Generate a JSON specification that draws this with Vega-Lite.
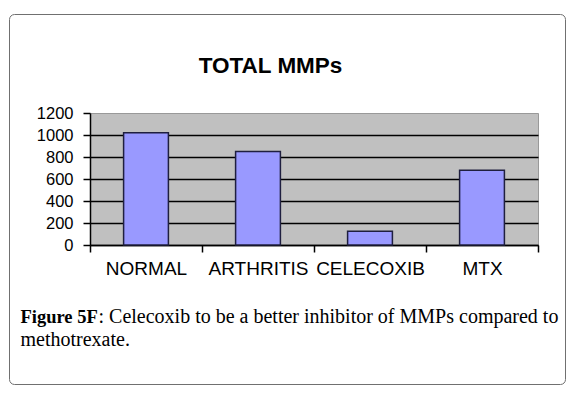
{
  "$schema": "https://vega.github.io/schema/vega-lite/v6.json",
  "width": 448,
  "height": 132,
  "autosize": {"type": "none"},
  "padding": {"left": 90, "top": 113, "right": 38, "bottom": 154},
  "background": "white",
  "title": {
    "text": "TOTAL MMPs",
    "font": "Liberation Sans",
    "fontSize": 22.5,
    "fontWeight": "bold",
    "color": "black",
    "anchor": "middle",
    "dx": -43.5,
    "dy": 82,
    "offset": 0,
    "baseline": "alphabetic"
  },
  "data": {
    "values": [
      {"group": "NORMAL", "mmps": 1020},
      {"group": "ARTHRITIS", "mmps": 850},
      {"group": "CELECOXIB", "mmps": 125},
      {"group": "MTX", "mmps": 680}
    ]
  },
  "layer": [
    {
      "mark": {"type": "bar", "fill": "#9999FF", "stroke": "#1f1f3f", "strokeWidth": 1.5, "width": {"band": 0.4}},
      "encoding": {
        "x": {
          "field": "group",
          "type": "nominal",
          "sort": null,
          "scale": {"paddingInner": 0, "paddingOuter": 0},
          "axis": {
            "orient": "bottom",
            "title": "Figure 5F",
            "titleFont": "Liberation Serif",
            "titleFontSize": 18.5,
            "titleFontWeight": "bold",
            "titleColor": "black",
            "titleX": -70,
            "titleY": 77,
            "titleAlign": "left",
            "titleBaseline": "alphabetic",
            "titleAngle": 0,
            "labelAngle": 0,
            "labelFont": "Liberation Sans",
            "labelFontSize": 19,
            "labelColor": "black",
            "labelPadding": 7,
            "labelOverlap": false,
            "labelLimit": 0,
            "tickBand": "extent",
            "tickSize": 7,
            "tickColor": "black",
            "tickWidth": 1.5,
            "domainColor": "black",
            "domainWidth": 1.5,
            "grid": false
          }
        },
        "y": {
          "field": "mmps",
          "type": "quantitative",
          "title": ": Celecoxib to be a better inhibitor of MMPs compared to",
          "scale": {"domain": [0, 1200], "nice": false},
          "axis": {
            "orient": "left",
            "values": [0, 200, 400, 600, 800, 1000, 1200],
            "format": "d",
            "labelOverlap": false,
            "titleFont": "Liberation Serif",
            "titleFontSize": 20,
            "titleFontWeight": "normal",
            "titleColor": "black",
            "titleAngle": 0,
            "titleX": 8,
            "titleY": 209,
            "titleAlign": "left",
            "titleBaseline": "alphabetic",
            "labelFont": "Liberation Sans",
            "labelFontSize": 16.5,
            "labelColor": "black",
            "labelPadding": 10,
            "tickSize": 7,
            "tickColor": "black",
            "tickWidth": 1.5,
            "domainColor": "black",
            "domainWidth": 1.5,
            "grid": true,
            "gridColor": "black",
            "gridWidth": 1.5,
            "gridOpacity": {"condition": {"test": "datum.value === 1200", "value": 0}, "value": 1}
          }
        }
      }
    },
    {
      "mark": {"type": "point", "opacity": 0},
      "encoding": {
        "x": {
          "field": "group",
          "type": "nominal",
          "sort": null,
          "axis": {
            "orient": "bottom",
            "domain": false,
            "ticks": false,
            "labels": false,
            "grid": false,
            "title": "methotrexate.",
            "titleFont": "Liberation Serif",
            "titleFontSize": 20,
            "titleFontWeight": "normal",
            "titleColor": "black",
            "titleX": -70,
            "titleY": 100,
            "titleAlign": "left",
            "titleBaseline": "alphabetic",
            "titleAngle": 0
          }
        },
        "y": {
          "field": "mmps",
          "type": "quantitative",
          "axis": null
        },
        "color": {
          "field": "mmps",
          "type": "quantitative",
          "scale": {"range": ["rgba(255,255,255,0)", "rgba(255,255,255,0)"]},
          "legend": {
            "orient": "none",
            "legendX": -81,
            "legendY": -99,
            "direction": "vertical",
            "gradientLength": 370,
            "gradientThickness": 556,
            "gradientStrokeWidth": 0,
            "title": null,
            "labelExpr": "''",
            "labelFontSize": 0,
            "labelOffset": 0,
            "padding": 0,
            "strokeColor": "#707070",
            "cornerRadius": 5
          }
        }
      }
    }
  ],
  "resolve": {"axis": {"x": "independent", "y": "independent"}},
  "config": {
    "view": {"fill": "#C0C0C0", "stroke": "#999999"}
  }
}
